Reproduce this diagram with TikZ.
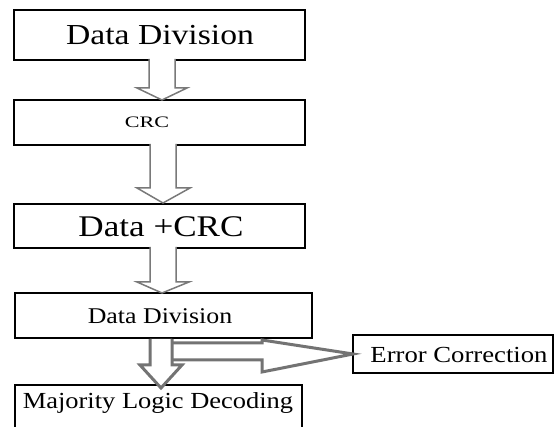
\documentclass[tikz,border=0pt]{standalone}
\usepackage{fontspec}
\usepackage{graphicx}
\setmainfont{Liberation Serif}
\newcommand{\widetext}[2]{\scalebox{#1}[1]{#2}}
\tikzset{
  stagebox/.style={draw=black, line width=2.6pt, fill=white},
  boxtext/.style={inner sep=0pt, anchor=center},
  thinarrow/.style={draw=gray!95!black, line width=1.5pt, fill=white, line join=miter},
  thickarrow/.style={draw=gray!90!black, line width=3pt, fill=white, line join=miter},
}
\begin{document}
\begin{tikzpicture}[x=1pt, y=-1pt]
  \useasboundingbox (0,0) rectangle (560,427);

  % stage boxes
  \draw[stagebox] (14,10) rectangle (305,60);
  \draw[stagebox] (14,100) rectangle (305,145);
  \draw[stagebox] (14,204) rectangle (305,248);
  \draw[stagebox] (15,293) rectangle (312,338);
  \draw[stagebox] (15,385) rectangle (302,440);
  \draw[stagebox] (353,335) rectangle (553,373);

  \node[boxtext] (division) at (160,35)
    {\fontsize{29}{31}\selectfont\widetext{1.16}{Data Division}};
  \node[boxtext] (crc) at (147,122)
    {\fontsize{16}{18}\selectfont\widetext{1.38}{CRC}};
  \node[boxtext] (datacrc) at (161,227)
    {\fontsize{30}{32}\selectfont\widetext{1.17}{Data +CRC}};
  \node[boxtext] (division2) at (160,316)
    {\fontsize{22.5}{24}\selectfont\widetext{1.15}{Data Division}};
  \node[boxtext] (majority) at (158,403)
    {\fontsize{23}{25}\selectfont\widetext{1.15}{Majority Logic Decoding}};
  \node[boxtext] (errcorr) at (459,355)
    {\fontsize{23}{25}\selectfont\widetext{1.16}{Error Correction}};

  % block arrows between the stages
  \draw[thinarrow] (149,59) -- (149,88) -- (137,88) -- (162,100) -- (187,88)
    -- (175,88) -- (175,59);
  \draw[thinarrow] (150,144) -- (150,188) -- (137,188) -- (163,203) -- (190,188)
    -- (176,188) -- (176,144);
  \draw[thinarrow] (150,247) -- (150,282) -- (137,282) -- (162,293) -- (189,282)
    -- (176,282) -- (176,247);

  % branch to error correction
  \draw[thickarrow] (172,343) -- (262,343) -- (262,340) -- (353,354)
    -- (262,372) -- (262,360) -- (172,360);
  % down to majority logic decoding
  \draw[thickarrow] (150,339) -- (150,365) -- (140,365) -- (161,388) -- (182,365)
    -- (172,365) -- (172,339);
\end{tikzpicture}
\end{document}
